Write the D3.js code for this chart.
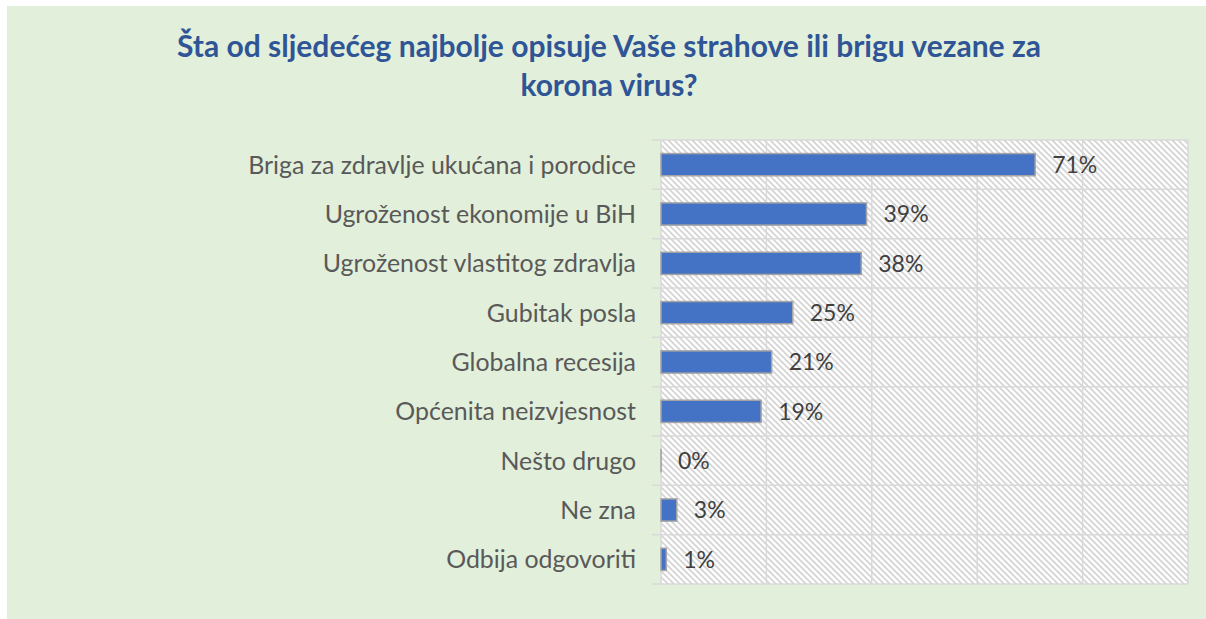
<!DOCTYPE html>
<head>
  <meta charset="utf-8">
  <script src="https://d3js.org/d3.v7.min.js"></script>
  <style>
    body { margin:0; background:white; }
  </style>
</head>
<body>
<script>
  // answers and shares
  const categories = ['Briga za zdravlje ukućana i porodice', 'Ugroženost ekonomije u BiH',
    'Ugroženost vlastitog zdravlja', 'Gubitak posla', 'Globalna recesija',
    'Općenita neizvjesnost', 'Nešto drugo', 'Ne zna', 'Odbija odgovoriti'];
  const shares = [0.71, 0.39, 0.38, 0.25, 0.21, 0.19, 0.0, 0.03, 0.01];
  const xTicks = [0, 0.2, 0.4, 0.6, 0.8, 1.0];
  const titleLines = ['Šta od sljedećeg najbolje opisuje Vaše strahove ili brigu vezane za', 'korona virus?'];

  const W = 1206, H = 619;
  const svg = d3.select('body').append('svg')
    .attr('width', W).attr('height', H);

  // hatch for the plot area
  const defs = svg.append('defs');
  const pat = defs.append('pattern')
    .attr('id', 'hatch')
    .attr('patternUnits', 'userSpaceOnUse')
    .attr('width', 6).attr('height', 6);
  pat.append('rect').attr('width', 6).attr('height', 6).attr('fill', 'white');
  pat.append('path')
    .attr('d', 'M-1,-1 L7,7 M-4,2 L1,7 M5,-1 L7,1')
    .attr('stroke', '#d4d4d4')
    .attr('stroke-width', 1.7);

  svg.append('rect')
    .attr('x', 7).attr('y', 6)
    .attr('width', W - 7).attr('height', H - 6)
    .attr('fill', '#e2efda');

  const x = d3.scaleLinear().domain([0, 1]).range([661, 1188]);
  const y = d3.scaleBand().domain(categories).range([140, 584])
    .paddingInner(0.55).paddingOuter(0.275);

  svg.append('rect')
    .attr('x', x(0)).attr('y', 140)
    .attr('width', x(1) - x(0)).attr('height', 444)
    .attr('fill', 'url(#hatch)');

  // vertical gridlines
  svg.append('g').selectAll('line')
    .data(xTicks)
    .join('line')
    .attr('x1', d => x(d)).attr('x2', d => x(d))
    .attr('y1', 140).attr('y2', 584)
    .attr('stroke', '#d9d9d9').attr('stroke-width', 1.5);

  // horizontal lines at category borders
  const step = y.step();
  svg.append('g').selectAll('line')
    .data(d3.range(categories.length + 1))
    .join('line')
    .attr('x1', 652).attr('x2', x(1))
    .attr('y1', i => 140 + i * step).attr('y2', i => 140 + i * step)
    .attr('stroke', '#d9d9d9').attr('stroke-width', 1.5);

  // bars (a zero bar still shows its outline, as in excel)
  svg.append('g').selectAll('rect')
    .data(categories)
    .join('rect')
    .attr('x', x(0))
    .attr('y', d => y(d))
    .attr('width', (d, i) => Math.max(x(shares[i]) - x(0), 0.1))
    .attr('height', y.bandwidth())
    .attr('fill', '#4472c4')
    .attr('stroke', '#a5a5a5')
    .attr('stroke-width', 1.5);

  const font = 'Lato, "Open Sans", sans-serif';

  // value labels
  svg.append('g').selectAll('text')
    .data(categories)
    .join('text')
    .attr('x', (d, i) => x(shares[i]) + 17)
    .attr('y', d => y(d) + y.bandwidth() / 2)
    .attr('dy', '0.36em')
    .style('font-family', font)
    .style('font-size', '23px')
    .style('fill', '#404040')
    .text((d, i) => Math.round(shares[i] * 100) + '%');

  // category labels
  svg.append('g').selectAll('text')
    .data(categories)
    .join('text')
    .attr('x', 636)
    .attr('y', d => y(d) + y.bandwidth() / 2)
    .attr('dy', '0.36em')
    .attr('text-anchor', 'end')
    .style('font-family', font)
    .style('font-size', '24.9px')
    .style('fill', '#595959')
    .text(d => d);

  // title
  svg.append('g').selectAll('text')
    .data(titleLines)
    .join('text')
    .attr('x', 609)
    .attr('y', (d, i) => 57 + i * 39)
    .attr('text-anchor', 'middle')
    .style('font-family', font)
    .style('font-weight', 'bold')
    .style('font-size', '30px')
    .style('fill', '#2f5597')
    .text(d => d);
</script>
</body>
